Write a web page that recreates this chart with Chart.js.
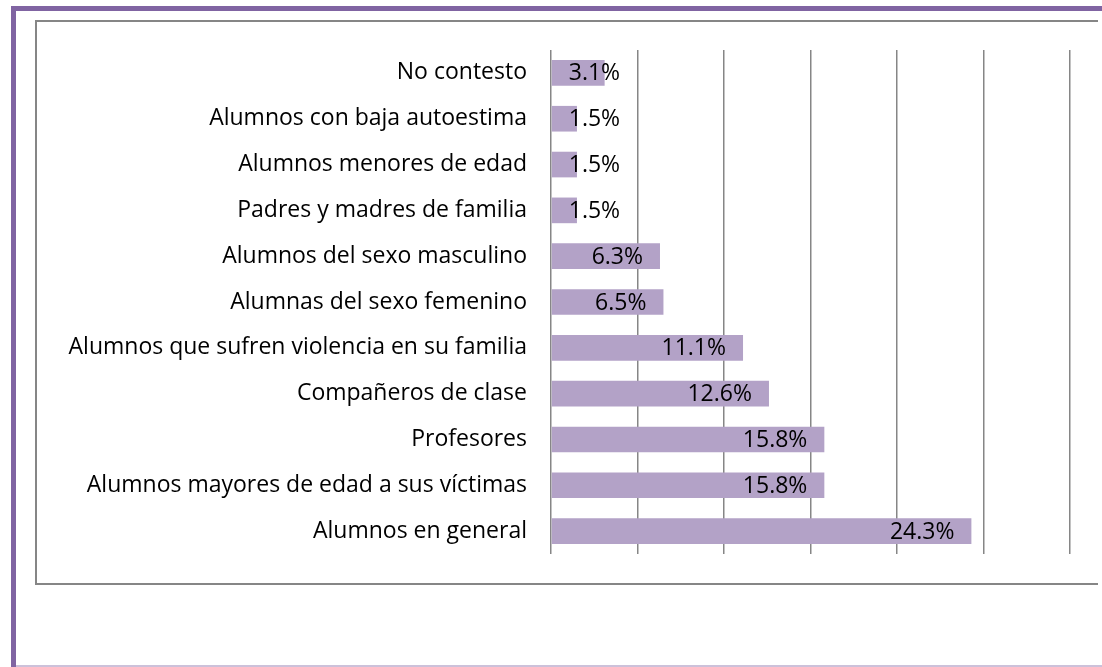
<!DOCTYPE html>
<html>
<head>
<meta charset="utf-8">
<script src="https://cdn.jsdelivr.net/npm/chart.js@4/dist/chart.umd.min.js"></script>
<style>
  html, body { margin: 0; padding: 0; background: #fff; width: 1102px; height: 667px; overflow: hidden; }
  #frameL { position: absolute; left: 11px; top: 6px; width: 5px; height: 661px; background: #8064a2; }
  #frameT { position: absolute; left: 11px; top: 6px; width: 1091px; height: 5px; background: #8064a2; }
  #frameB { position: absolute; left: 16px; top: 665px; width: 1086px; height: 2px; background: #ccc1da; }
  #box { position: absolute; left: 35px; top: 20px; width: 1061px; height: 561px;
         border-left: 2px solid #868686; border-top: 2px solid #868686; border-bottom: 2px solid #868686; }
  #wrap { position: absolute; left: 37px; top: 22px; width: 1063px; height: 561px; }
</style>
</head>
<body>
<div id="frameL"></div>
<div id="frameT"></div>
<div id="frameB"></div>
<div id="box"></div>
<div id="wrap"><canvas id="c" width="1063" height="561" style="width:1063px;height:561px"></canvas></div>
<script>
const categories = [
  "No contesto",
  "Alumnos con baja autoestima",
  "Alumnos menores de edad",
  "Padres y madres de familia",
  "Alumnos del sexo masculino",
  "Alumnas del sexo femenino",
  "Alumnos que sufren violencia en su familia",
  "Compañeros de clase",
  "Profesores",
  "Alumnos mayores de edad a sus víctimas",
  "Alumnos en general"
];
const values = [3.1, 1.5, 1.5, 1.5, 6.3, 6.5, 11.1, 12.6, 15.8, 15.8, 24.3];
const xMin = 0, xMax = 30, xStep = 5;

const FONT = '"Open Sans", "Noto Sans", sans-serif';
const FSIZE = 23;

const labelPlugin = {
  id: 'barLabels',
  afterDatasetsDraw(chart) {
    const ctx = chart.ctx;
    const meta = chart.getDatasetMeta(0);
    ctx.save();
    ctx.font = FSIZE + 'px ' + FONT;
    ctx.fillStyle = '#000';
    ctx.textAlign = 'right';
    ctx.textBaseline = 'middle';
    meta.data.forEach((bar, i) => {
      const txt = values[i].toFixed(1) + '%';
      const w = ctx.measureText(txt).width;
      const right = Math.max(bar.x - 17, bar.base + 17 + w);
      ctx.fillText(txt, right, bar.y + 1);
    });
    ctx.restore();
  }
};

new Chart(document.getElementById('c'), {
  type: 'bar',
  data: {
    labels: categories,
    datasets: [{
      data: values,
      backgroundColor: '#b3a2c7',
      borderWidth: 0,
      categoryPercentage: 1,
      barPercentage: 0.56
    }]
  },
  options: {
    indexAxis: 'y',
    responsive: false,
    maintainAspectRatio: false,
    animation: false,
    events: [],
    layout: { padding: { left: 0, right: 30, top: 28, bottom: 29 } },
    plugins: { legend: { display: false }, tooltip: { enabled: false } },
    scales: {
      x: {
        min: xMin, max: xMax,
        ticks: { display: false, stepSize: xStep },
        grid: { color: '#868686', lineWidth: 1.5, drawTicks: false },
        border: { display: false },
        afterFit(scale) { scale.height = 0; scale.paddingLeft = 0; scale.paddingRight = 0; }
      },
      y: {
        ticks: { color: '#000', font: { family: FONT, size: FSIZE }, padding: 24 },
        grid: { display: false, drawTicks: false },
        border: { display: false },
        afterFit(scale) { scale.width = 514; scale.paddingTop = 0; scale.paddingBottom = 0; }
      }
    }
  },
  plugins: [labelPlugin]
});
</script>
</body>
</html>
